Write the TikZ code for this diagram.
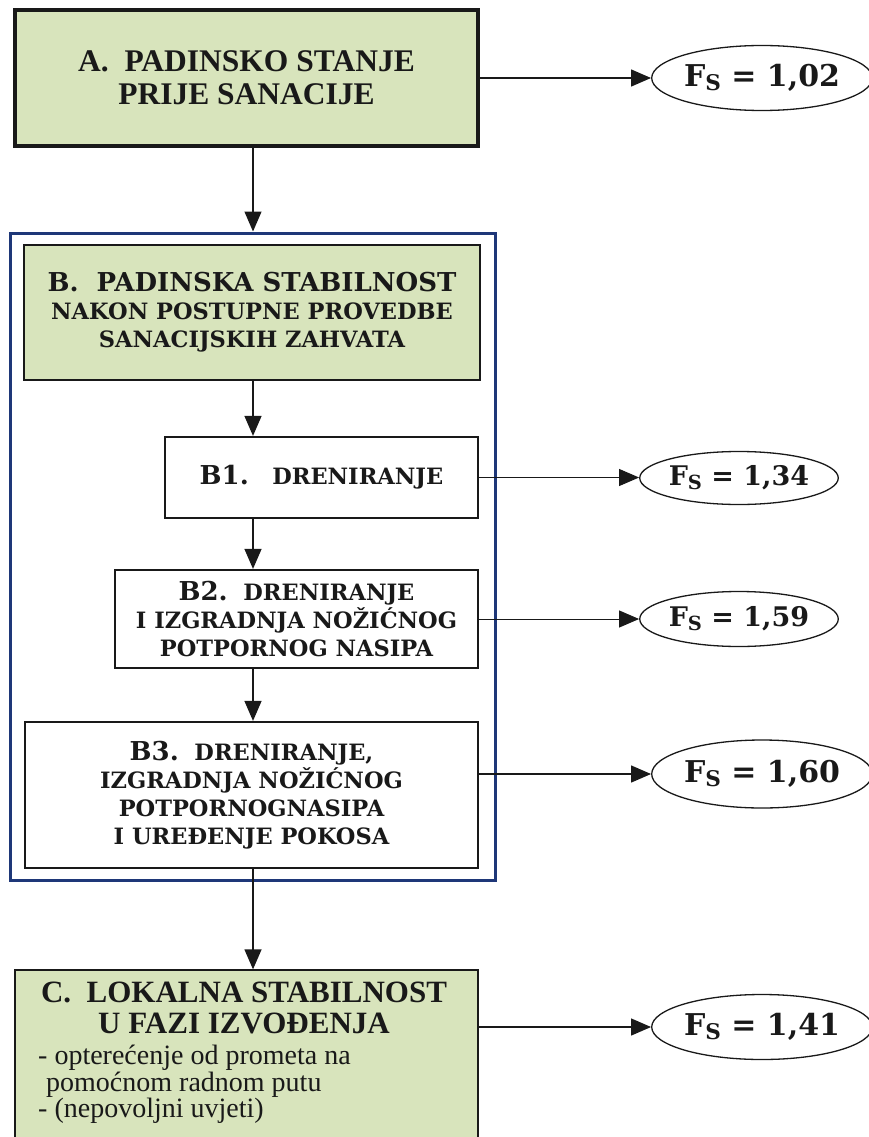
\documentclass[tikz,border=0pt]{standalone}
\usepackage{fontspec}
\usepackage{graphicx}
\setmainfont{Liberation Serif}
\newfontfamily\wideserif{DejaVu Serif}
\usetikzlibrary{arrows.meta,shapes.geometric,calc}
\definecolor{boxgreen}{RGB}{216,228,188}
\definecolor{frameblue}{RGB}{30,55,120}
\definecolor{ink}{RGB}{25,25,25}
\newcommand{\FsLbl}{F\raisebox{-0.12em}{\scalebox{0.72}{S}}}
\newcommand{\steplbl}[1]{{\fontsize{26}{28.5}\selectfont #1}}
\begin{document}
\begin{tikzpicture}[x=1pt,y=-1pt,
  every node/.style={text=ink},
  box/.style={draw=ink, rectangle, align=center, inner sep=0pt},
  gbox/.style={box, fill=boxgreen},
  headfont/.style={font=\bfseries\fontsize{31.5}{33}\selectfont},
  widefont/.style={font=\wideserif\bfseries\fontsize{22.5}{28}\selectfont},
  fsel/.style={draw=ink, ellipse, line width=1.3pt, inner sep=0pt, fill=white},
  fsbig/.style={fsel, font=\wideserif\bfseries\fontsize{30}{33}\selectfont},
  fssmall/.style={fsel, font=\wideserif\bfseries\fontsize{27}{30}\selectfont},
  arr/.style={draw=ink, line width=1.3pt, -{Triangle[length=20pt,width=17pt]}},
  thinarr/.style={arr, line width=1pt}
]
\useasboundingbox (0,0) rectangle (868,1137);
\coordinate (spine) at (253,0);

% frame
\node[draw=frameblue, line width=3pt, rectangle, minimum width=485pt, minimum height=647pt, inner sep=0pt] (frame) at (252.5,556.5) {};

% boxes
\node[gbox, line width=4pt, minimum width=463pt, minimum height=136pt, headfont] (A) at (246.5,78) {A.~~PADINSKO STANJE\\PRIJE SANACIJE};
\node[gbox, line width=1.6pt, minimum width=456pt, minimum height=135pt, widefont] (B) at (252,312.5) {\steplbl{B.~~PADINSKA STABILNOST}\\NAKON POSTUPNE PROVEDBE\\SANACIJSKIH ZAHVATA};
\node[box, fill=white, line width=2.2pt, minimum width=313pt, minimum height=81pt, widefont] (B1) at (321.5,477.5) {\steplbl{B1.}~~~DRENIRANJE};
\node[box, fill=white, line width=2.2pt, minimum width=363pt, minimum height=98pt, widefont] (B2) at (296.5,619) {\steplbl{B2.}~~DRENIRANJE\\I IZGRADNJA NOŽIĆNOG\\POTPORNOG NASIPA};
\node[box, fill=white, line width=2.2pt, minimum width=453pt, minimum height=146pt, widefont] (B3) at (251.5,795) {\steplbl{B3.}~~DRENIRANJE,\\IZGRADNJA NOŽIĆNOG\\POTPORNOGNASIPA\\I UREĐENJE POKOSA};
\node[gbox, line width=1.3pt, minimum width=463pt, minimum height=180pt] (C) at (246.5,1060) {};
\node[font=\bfseries\fontsize{31}{31}\selectfont, align=center, inner sep=0pt] (Ctitle) at (244,1008) {C.~~LOKALNA STABILNOST\\U FAZI IZVOĐENJA};
\node[font=\fontsize{28}{26.5}\selectfont, align=left, inner sep=0pt, anchor=north west] (Cbody) at (38,1045) {- opterećenje od prometa na\\\hspace*{8pt}pomoćnom radnom putu\\- (nepovoljni uvjeti)};

% ellipses
\node[fsbig, minimum width=199pt, minimum height=65pt] (e1) at (762,78) {\FsLbl{} = 1,02};
\node[fssmall, minimum width=166pt, minimum height=53pt] (e2) at (739,478) {\FsLbl{} = 1,34};
\node[fssmall, minimum width=166pt, minimum height=55pt] (e3) at (739,619) {\FsLbl{} = 1,59};
\node[fsbig, minimum width=199pt, minimum height=68pt] (e4) at (762,774) {\FsLbl{} = 1,60};
\node[fsbig, minimum width=199pt, minimum height=65pt] (e5) at (762,1027) {\FsLbl{} = 1,41};

% vertical arrows
\draw[arr] (A.south -| spine) -- (frame.north -| spine);
\draw[arr] (B.south -| spine) -- (B1.north -| spine);
\draw[arr] (B1.south -| spine) -- (B2.north -| spine);
\draw[arr] (B2.south -| spine) -- (B3.north -| spine);
\draw[arr] (B3.south -| spine) -- (C.north -| spine);

% horizontal arrows
\draw[arr] (A.east) -- (e1.west);
\draw[thinarr] (B1.east) -- (B1.east -| e2.west);
\draw[thinarr] (B2.east) -- (B2.east -| e3.west);
\draw[arr] (B3.east |- e4.west) -- (e4.west);
\draw[arr] (C.east |- e5.west) -- (e5.west);
\end{tikzpicture}
\end{document}
